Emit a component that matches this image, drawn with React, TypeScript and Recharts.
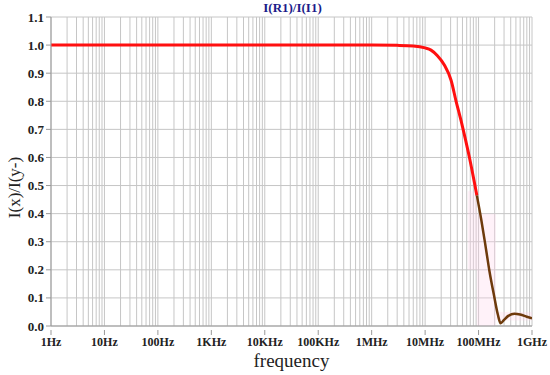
import React from 'react';
import { LineChart, Line, XAxis, YAxis, CartesianGrid, ReferenceArea, Label } from 'recharts';

// frequency (Hz) and I(R1)/I(I1)
const freqs = [
  1, 10, 100, 1e3, 1e4, 1e5, 1e6, 3e6, 6e6, 1e7, 1.29e7, 1.7e7, 2.29e7, 3.06e7, 3.8e7, 4.72e7, 5.6e7,
  6.75e7, 8.38e7, 9.29e7, 1.12e8, 1.35e8, 1.6e8, 1.94e8, 2.3e8, 2.58e8, 3e8, 3.6e8, 4.7e8, 6e8, 8e8, 1e9,
];
const ratio = [
  1, 1, 1, 1, 1, 1, 1, 0.999, 0.997, 0.99, 0.982, 0.962, 0.929, 0.875, 0.8, 0.73, 0.67,
  0.6, 0.51, 0.465, 0.38, 0.285, 0.195, 0.11, 0.04, 0.01, 0.022, 0.036, 0.044, 0.041, 0.033, 0.027,
];
// the trace turns brown past this frequency
const splitFreq = 9.29e7;

const xTickLabels = ['1Hz', '10Hz', '100Hz', '1KHz', '10KHz', '100KHz', '1MHz', '10MHz', '100MHz', '1GHz'];
const yTicks = [0, 0.1, 0.2, 0.3, 0.4, 0.5, 0.6, 0.7, 0.8, 0.9, 1.0, 1.1];

// faint pink highlight bands behind the falling edge: [x1, x2, y1, y2]
const bands = [
  [6.3e7, 9.3e7, 0.2, 0.48],
  [9.3e7, 2.1e8, 0.0, 0.4],
  [2.1e8, 1e9, 0.02, 0.05],
];

const points = freqs.map((f, i) => ({ f, v: ratio[i] }));
const redData = points.filter((p) => p.f <= splitFreq);
const brownData = points.filter((p) => p.f >= splitFreq);

// minor log grid: 1..9 x each decade
const gridTicks: number[] = [];
for (let d = 0; d < xTickLabels.length; d++) {
  for (let m = 1; m <= 9; m++) {
    if (d === xTickLabels.length - 1 && m > 1) break;
    gridTicks.push(m * Math.pow(10, d));
  }
}

const serif = '"Liberation Serif", "Times New Roman", serif';
const tickStyle = { fontFamily: serif, fontWeight: 'bold' as const, fill: '#222' };

const XTick = (props: any) => {
  const { x, y, payload } = props;
  const d = Math.log10(payload.value);
  if (Math.abs(d - Math.round(d)) > 1e-6) return <g />;
  const lab = xTickLabels[Math.round(d)];
  return (
    <g>
      <line x1={x} x2={x} y1={y - 4} y2={y + 1} stroke="#999" />
      <text x={x} y={y + 12} textAnchor="middle" style={{ ...tickStyle, fontSize: 12 }}>
        {lab}
      </text>
    </g>
  );
};

const YTick = (props: any) => {
  const { x, y, payload } = props;
  return (
    <text x={x} y={y} dy={4.5} textAnchor="end" style={{ ...tickStyle, fontSize: 13 }}>
      {Number(payload.value).toFixed(1)}
    </text>
  );
};

export default function App() {
  return (
    <div style={{ position: 'absolute', left: 0, top: 0, width: 550, height: 375, background: '#fff' }}>
      <div
        style={{
          position: 'absolute', left: 0, top: 0, width: 585, textAlign: 'center',
          fontFamily: serif, fontWeight: 'bold', fontSize: 13, color: '#1c1c8a', lineHeight: '16px',
        }}
      >
        I(R1)/I(I1)
      </div>
      <LineChart width={550} height={375} margin={{ top: 17, right: 18, left: 0, bottom: 0 }}>
        <CartesianGrid stroke="#c6c6c6" />
        <XAxis
          dataKey="f"
          type="number"
          scale="log"
          domain={[1, 1e9]}
          ticks={gridTicks}
          interval={0}
          tick={<XTick />}
          tickLine={false}
          axisLine={{ stroke: '#999' }}
          height={49}
          allowDataOverflow
        >
          <Label
            value="frequency"
            position="insideBottom"
            offset={8}
            style={{ fontFamily: serif, fontSize: 19, fill: '#222' }}
          />
        </XAxis>
        <YAxis
          type="number"
          domain={[0, 1.1]}
          ticks={yTicks}
          width={51}
          tickSize={5}
          tickLine={{ stroke: '#999' }}
          axisLine={{ stroke: '#999' }}
          tick={<YTick />}
          allowDataOverflow
        >
          <Label
            content={(p: any) => {
              const vb = p.viewBox;
              const cy = vb.y + vb.height / 2 + 16;
              return (
                <text
                  x={14}
                  y={cy}
                  transform={`rotate(-90 14 ${cy})`}
                  textAnchor="middle"
                  dominantBaseline="central"
                  style={{ fontFamily: serif, fontSize: 17, fill: '#222' }}
                >
                  I(x)/I(y-)
                </text>
              );
            }}
          />
        </YAxis>
        {bands.map((b, i) => (
          <ReferenceArea key={i} x1={b[0]} x2={b[1]} y1={b[2]} y2={b[3]} fill="#ffd3ea" fillOpacity={0.3} stroke="none" ifOverflow="hidden" />
        ))}
        <Line data={redData} dataKey="v" type="monotone" stroke="#ff1010" strokeWidth={3} dot={false} isAnimationActive={false} />
        <Line data={brownData} dataKey="v" type="monotone" stroke="#6e3a0c" strokeWidth={2.5} dot={false} isAnimationActive={false} />
      </LineChart>
    </div>
  );
}
